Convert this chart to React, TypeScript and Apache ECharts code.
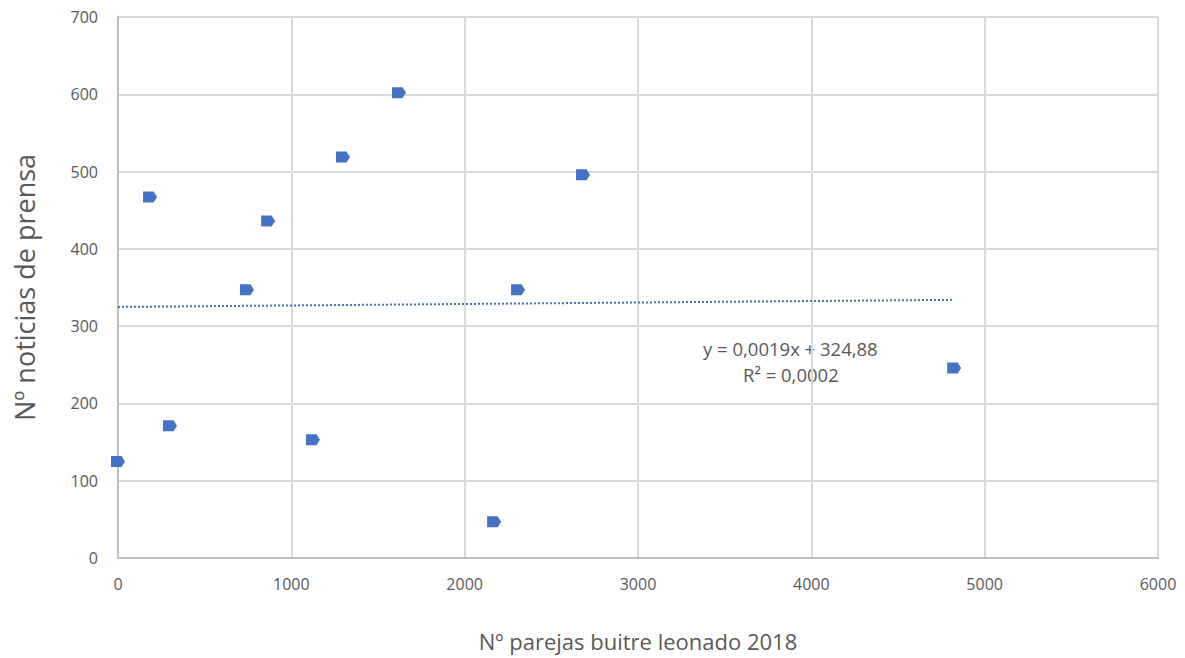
import React, { useEffect, useRef } from "react";
import * as echarts from "echarts";

const parejas = [0, 185, 300, 744, 866, 1125, 1298, 1621, 2170, 2308, 2683, 4824];
const noticias = [125, 467, 171, 347, 436, 153, 519, 602, 47, 347, 496, 246];
const xTicks = [0, 1000, 2000, 3000, 4000, 5000, 6000];
const yTicks = [0, 100, 200, 300, 400, 500, 600, 700];
const trendSlope = 0.0019;
const trendIntercept = 324.88;
const trendRangeX = [0, 4824];
const eqLine1 = "y = 0,0019x + 324,88";
const eqLine2 = "R² = 0,0002";

export default function App() {
  const ref = useRef<HTMLDivElement>(null);
  useEffect(() => {
    if (!ref.current) return;
    const chart = echarts.init(ref.current, null, { renderer: "svg" });
    const pts = parejas.map((x, i) => [x, noticias[i]]);
    const trend = trendRangeX.map((x) => [x, trendIntercept + trendSlope * x]);
    chart.setOption({
      animation: false,
      backgroundColor: "#ffffff",
      grid: { left: 118, right: 27, top: 17, bottom: 100, containLabel: false },
      xAxis: {
        type: "value",
        min: xTicks[0],
        max: xTicks[xTicks.length - 1],
        interval: 1000,
        name: "Nº parejas buitre leonado 2018",
        nameLocation: "middle",
        nameGap: 72,
        nameTextStyle: { fontSize: 22, color: "#595959", fontFamily: "Open Sans" },
        axisLine: { show: true, lineStyle: { color: "#bfbfbf", width: 2 } },
        axisTick: { show: false },
        axisLabel: {
          color: "#595959",
          fontSize: 16,
          margin: 18,
          fontFamily: "Open Sans",
          formatter: (v: number) => String(v),
        },
        splitLine: { show: true, lineStyle: { color: "#d9d9d9", width: 2 } },
      },
      yAxis: {
        type: "value",
        min: yTicks[0],
        max: yTicks[yTicks.length - 1],
        interval: 100,
        name: "Nº noticias de prensa",
        nameLocation: "middle",
        nameGap: 80,
        nameRotate: 90,
        nameTextStyle: { fontSize: 27, color: "#595959", fontFamily: "Open Sans" },
        axisLine: { show: true, lineStyle: { color: "#bfbfbf", width: 2 } },
        axisTick: { show: false },
        axisLabel: {
          color: "#595959",
          fontSize: 16,
          margin: 20,
          fontFamily: "Open Sans",
          formatter: (v: number) => String(v),
        },
        splitLine: { show: true, lineStyle: { color: "#d9d9d9", width: 2 } },
      },
      series: [
        {
          type: "line",
          data: trend,
          symbol: "none",
          lineStyle: { color: "#4472C4", width: 2, type: [2, 2] },
          z: 2,
          silent: true,
        },
        {
          type: "scatter",
          data: pts,
          symbol: "path://M0,0 L9,0 L12,5 L9,10 L0,10 Z",
          symbolSize: [14, 11],
          itemStyle: { color: "#4472C4", opacity: 1 },
          z: 3,
        },
      ],
      graphic: [
        {
          type: "text",
          left: 703,
          top: 339,
          style: { text: eqLine1, fill: "#595959", fontSize: 18.5, fontFamily: "Open Sans" },
        },
        {
          type: "text",
          left: 743,
          top: 365,
          style: { text: eqLine2, fill: "#595959", fontSize: 18.5, fontFamily: "Open Sans" },
        },
      ],
    });
    return () => chart.dispose();
  }, []);
  return (
    <div
      ref={ref}
      style={{ position: "fixed", left: 0, top: 0, width: 1185, height: 658 }}
    />
  );
}
